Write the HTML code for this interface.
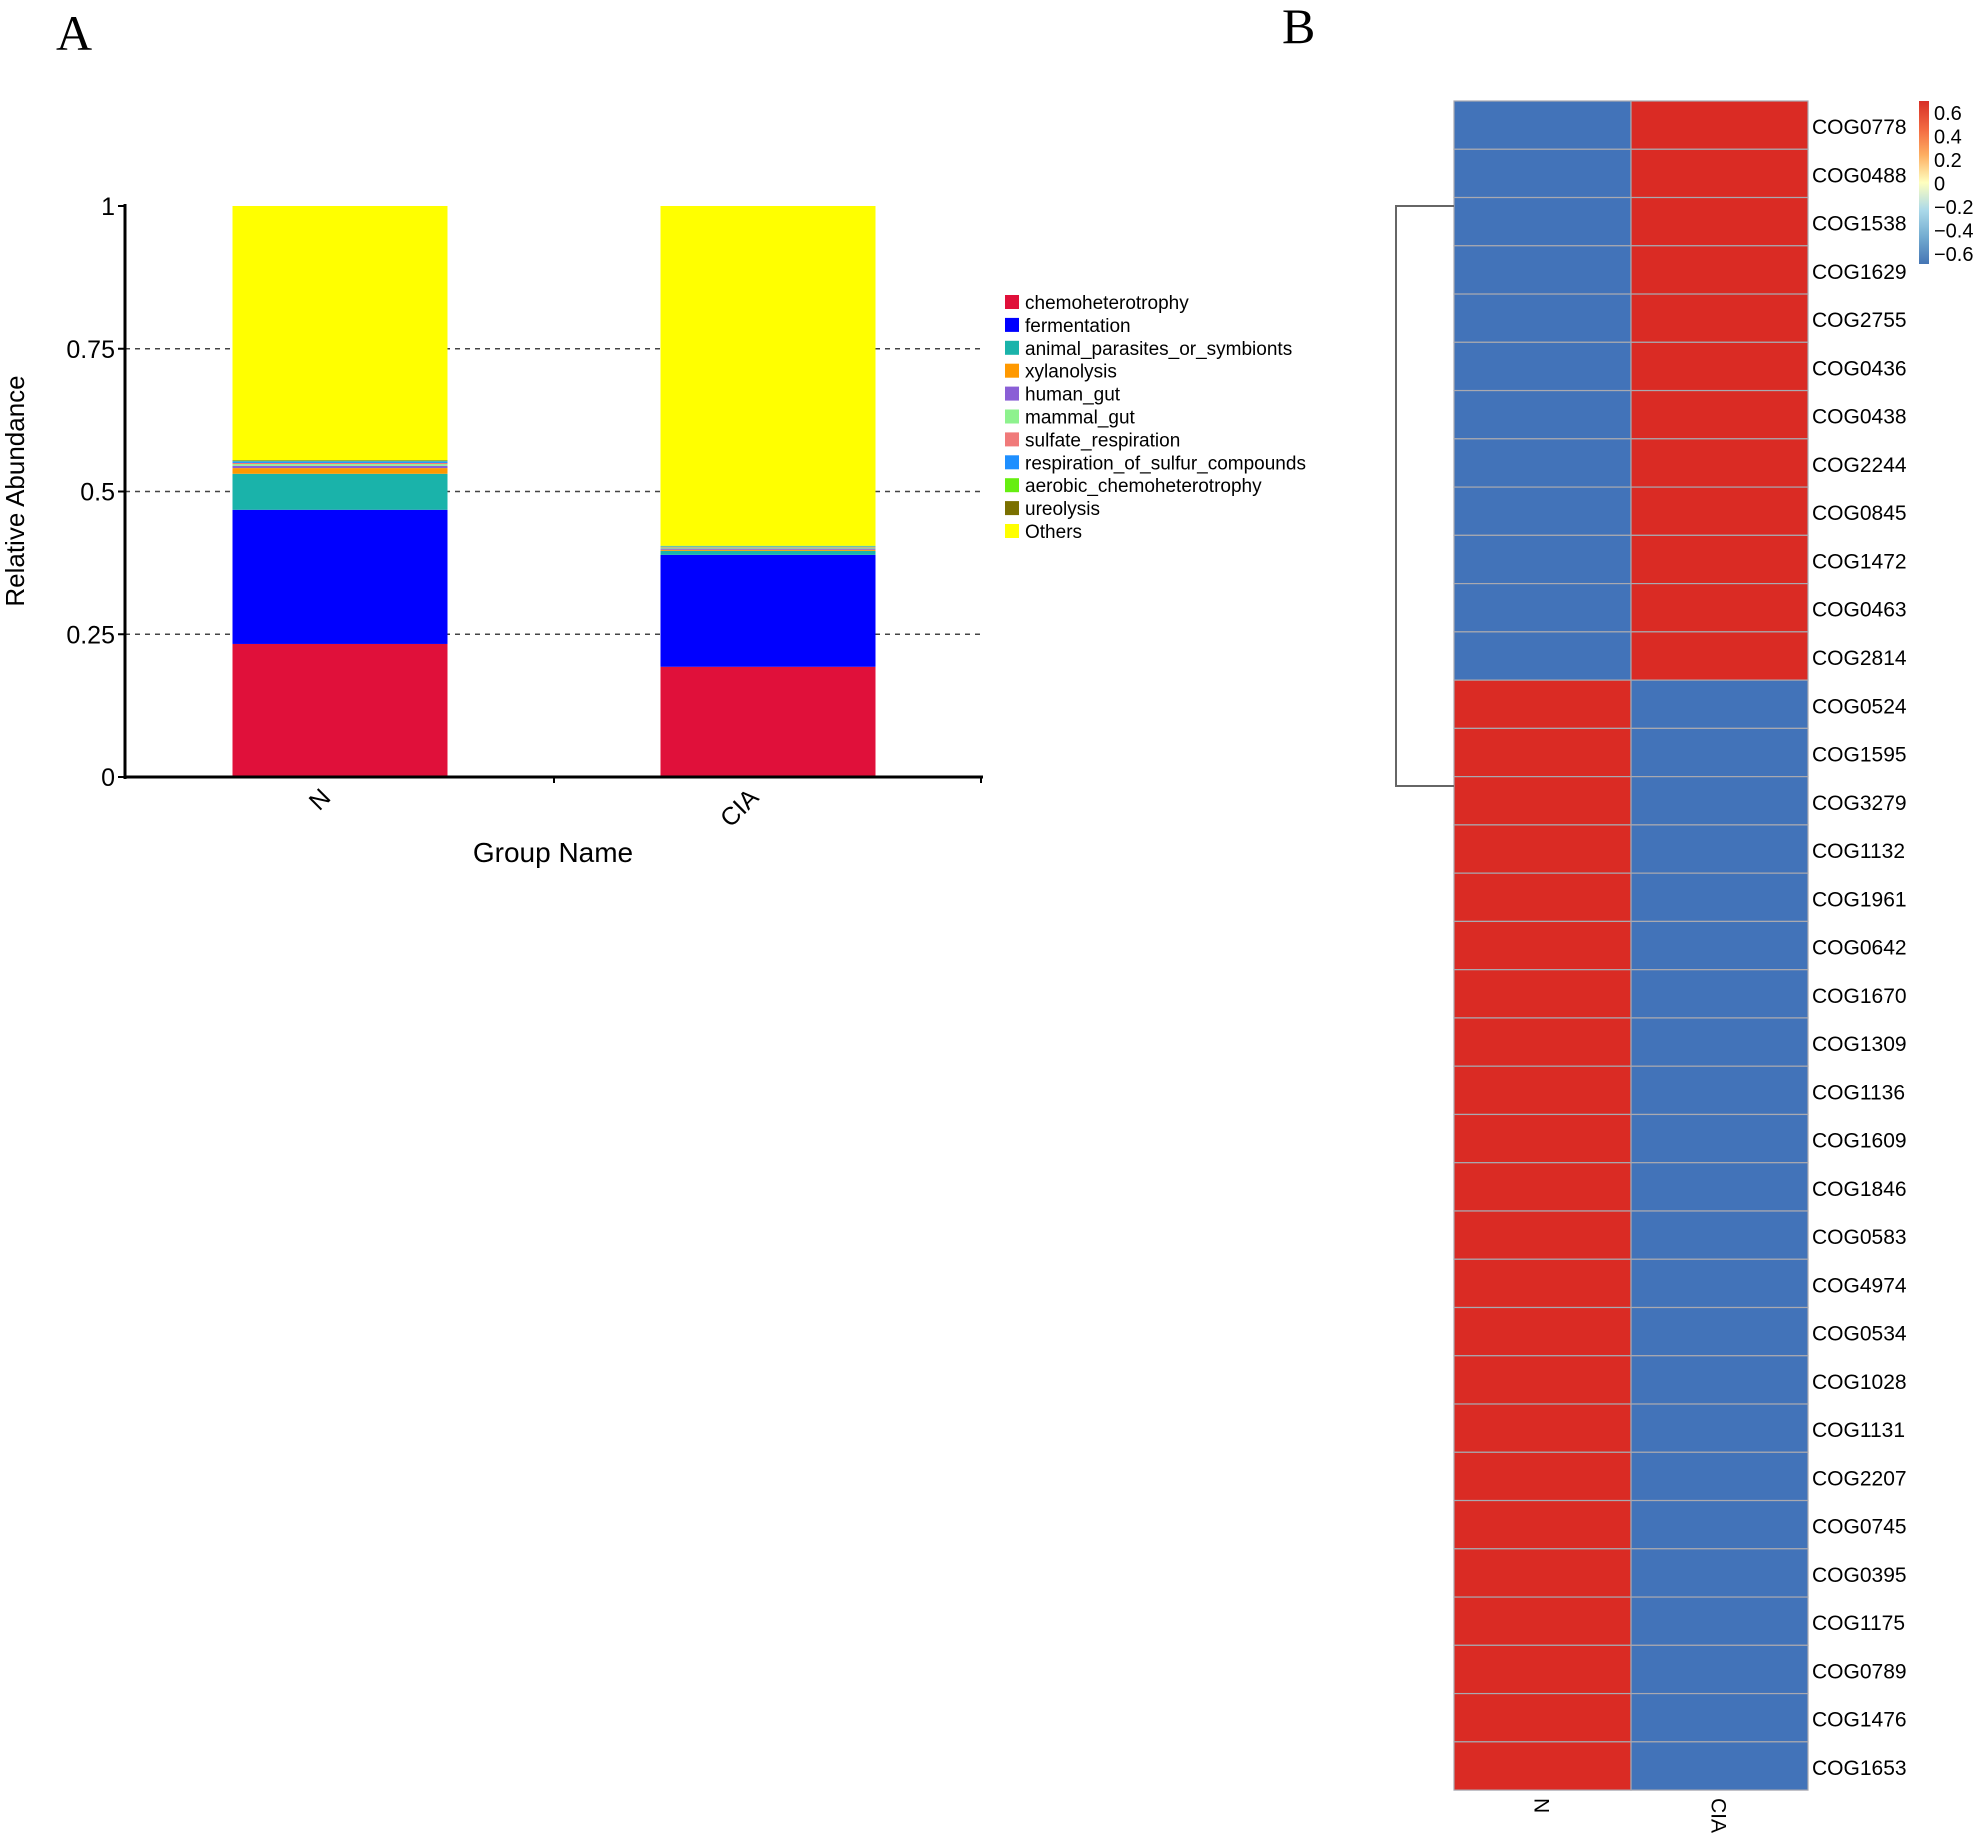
<!DOCTYPE html>
<html><head><meta charset="utf-8"><style>
html,body{margin:0;padding:0;background:#fff;}
svg{display:block;font-family:"Liberation Sans",Arial,sans-serif;}
</style></head><body>
<svg id="chart" width="1984" height="1839" viewBox="0 0 1984 1839" xmlns="http://www.w3.org/2000/svg">
<defs>
<linearGradient id="cbar" x1="0" y1="0" x2="0" y2="1">
<stop offset="0" stop-color="#d73027"/><stop offset="0.18" stop-color="#f46d43"/><stop offset="0.33" stop-color="#fdae61"/><stop offset="0.5" stop-color="#ffffbf"/><stop offset="0.67" stop-color="#abd9e9"/><stop offset="0.83" stop-color="#74add1"/><stop offset="1" stop-color="#4575b4"/>
</linearGradient>
</defs>
<text x="56" y="50" font-family="Liberation Serif,serif" font-size="50">A</text>
<text x="1282" y="43" font-family="Liberation Serif,serif" font-size="50">B</text>
<g id="barchart"></g>
<g id="heatmap"></g>
</svg>
<script>
const groups = ["N","CIA"];
const categories = ["chemoheterotrophy","fermentation","animal_parasites_or_symbionts","xylanolysis","human_gut","mammal_gut","sulfate_respiration","respiration_of_sulfur_compounds","aerobic_chemoheterotrophy","ureolysis","Others"];
const catColors = ["#e0103a","#0000ff","#1ab3aa","#ff9900","#8a5fd6","#8ef28e","#f07a7a","#1e8fff","#66ee11","#7a7000","#ffff00"];
const valuesN = [0.233,0.235,0.063,0.010,0.004,0.003,0.002,0.003,0.001,0.001,0.445];
const valuesCIA = [0.193,0.196,0.007,0.002,0.002,0.002,0.001,0.001,0.001,0.000,0.595];
const yTicks = [0,0.25,0.5,0.75,1];
const yTickLabels = ["0","0.25","0.5","0.75","1"];
const rowLabels = ["COG0778","COG0488","COG1538","COG1629","COG2755","COG0436","COG0438","COG2244","COG0845","COG1472","COG0463","COG2814","COG0524","COG1595","COG3279","COG1132","COG1961","COG0642","COG1670","COG1309","COG1136","COG1609","COG1846","COG0583","COG4974","COG0534","COG1028","COG1131","COG2207","COG0745","COG0395","COG1175","COG0789","COG1476","COG1653"];
const heatN = [-0.7,-0.7,-0.7,-0.7,-0.7,-0.7,-0.7,-0.7,-0.7,-0.7,-0.7,-0.7,0.7,0.7,0.7,0.7,0.7,0.7,0.7,0.7,0.7,0.7,0.7,0.7,0.7,0.7,0.7,0.7,0.7,0.7,0.7,0.7,0.7,0.7,0.7];
const heatCIA = [0.7,0.7,0.7,0.7,0.7,0.7,0.7,0.7,0.7,0.7,0.7,0.7,-0.7,-0.7,-0.7,-0.7,-0.7,-0.7,-0.7,-0.7,-0.7,-0.7,-0.7,-0.7,-0.7,-0.7,-0.7,-0.7,-0.7,-0.7,-0.7,-0.7,-0.7,-0.7,-0.7];
const cbTicks = [0.6,0.4,0.2,0,-0.2,-0.4,-0.6];
const cbTickLabels = ["0.6","0.4","0.2","0","\u22120.2","\u22120.4","\u22120.6"];

const NS="http://www.w3.org/2000/svg";
function mk(tag, attrs, parent, txt){const e=document.createElementNS(NS,tag);for(const k in attrs)e.setAttribute(k,attrs[k]);if(txt!==undefined)e.textContent=txt;parent.appendChild(e);return e;}

// ---- Bar chart ----
const bc=document.getElementById('barchart');
const y0=777,y1=206,axX=125;
const yScale=v=>y0-(y0-y1)*v;
const xCenters=[340,768], barW=215;
const xScale=i=>xCenters[i];
yTicks.forEach((t,i)=>{
  if(t>0&&t<1){const g=mk('line',{x1:axX,x2:983,y1:yScale(t),y2:yScale(t),stroke:'#444','stroke-width':1.5,'stroke-dasharray':'5,5'},bc);
  }
});
[valuesN,valuesCIA].forEach((vals,gi)=>{
  let cum=0;
  vals.forEach((v,ci)=>{
    const r=mk('rect',{x:xScale(gi)-barW/2,y:yScale(cum+v),width:barW,height:Math.max(0,yScale(cum)-yScale(cum+v)),fill:catColors[ci]},bc);
    
    
    cum+=v;
  });
});
let e;
e=mk('line',{x1:axX,x2:axX,y1:y1-2,y2:y0+2,stroke:'#000','stroke-width':3},bc);

e=mk('line',{x1:axX,x2:983,y1:y0,y2:y0,stroke:'#000','stroke-width':3},bc);

mk('line',{x1:554,x2:554,y1:y0,y2:y0+6,stroke:'#000','stroke-width':2},bc);
mk('line',{x1:981,x2:981,y1:y0,y2:y0+6,stroke:'#000','stroke-width':2},bc);
yTicks.forEach((t,i)=>{
  mk('line',{x1:axX-7,x2:axX,y1:yScale(t),y2:yScale(t),stroke:'#000','stroke-width':2},bc);
  const tl=mk('text',{x:axX-10,y:yScale(t)+9,'text-anchor':'end','font-size':25},bc,yTickLabels[i]);
  
});
groups.forEach((g,i)=>{
  const cx=xScale(i)-8, cy=y0+22;
  const tl=mk('text',{x:cx,y:cy,'text-anchor':'end','font-size':25,transform:`rotate(-45 ${cx} ${cy})`},bc,g);
  
});
e=mk('text',{x:553,y:862,'text-anchor':'middle','font-size':28},bc,'Group Name');

e=mk('text',{x:24,y:491,'text-anchor':'middle','font-size':26,transform:'rotate(-90 24 491)'},bc,'Relative Abundance');

categories.forEach((c,i)=>{
  const yy=302+i*22.9;
  const g=mk('g',{},bc);
  
  mk('rect',{x:1005,y:yy-7,width:14,height:14,fill:catColors[i]},g);
  mk('text',{x:1025,y:yy+7,'font-size':19},g,c);
});

// ---- Heatmap ----
const hm=document.getElementById('heatmap');
const hx0=1454,hTop=101,rowH=48.26,colW=177;
const colX=i=>hx0+i*colW;
const rowY=i=>hTop+i*rowH;
const colorOf=v=>v>0?'#da2b24':'#4273b9';
[heatN,heatCIA].forEach((col,ci)=>{
  col.forEach((v,ri)=>{
    const r=mk('rect',{x:colX(ci),y:rowY(ri),width:colW,height:rowH,fill:colorOf(v),stroke:'#a9a9b0','stroke-width':1.2},hm);
    
    
  });
});
rowLabels.forEach((l,i)=>{
  const t=mk('text',{x:1812,y:rowY(i)+rowH/2+9,'font-size':21},hm,l);
  
});
groups.forEach((g,i)=>{
  const cx=colX(i)+colW/2-8, cy=1798;
  const t=mk('text',{x:cx,y:cy,'font-size':21,transform:`rotate(90 ${cx} ${cy})`},hm,g);
  
});
e=mk('path',{d:'M1454 206 H1396 V786 H1454',fill:'none',stroke:'#666','stroke-width':2},hm);

e=mk('rect',{x:1919,y:101,width:10,height:163,fill:'url(#cbar)'},hm);

const cbY=v=>113+(0.6-v)/1.2*141;
cbTicks.forEach((t,i)=>{
  const tl=mk('text',{x:1934,y:cbY(t)+7,'font-size':20},hm,cbTickLabels[i]);
  
});
</script>
</body></html>
